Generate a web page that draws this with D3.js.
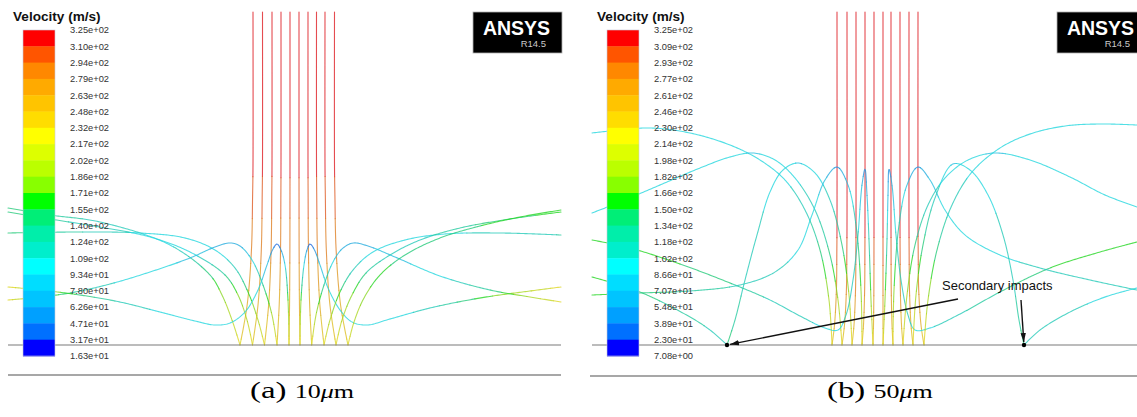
<!DOCTYPE html>
<html><head><meta charset="utf-8">
<script src="https://cdn.jsdelivr.net/npm/d3@7"></script>
<style>
body{margin:0;background:#fff}svg{display:block}
.sans{font-family:Arial,'Liberation Sans',Helvetica,sans-serif}
.serif{font-family:'Times New Roman','Liberation Serif',Times,serif}
</style>
</head><body>
<script>
// ---------- data ----------
const legendTitle = "Velocity (m/s)";
const legendA = ["3.25e+02","3.10e+02","2.94e+02","2.79e+02","2.63e+02","2.48e+02","2.32e+02","2.17e+02","2.02e+02","1.86e+02","1.71e+02","1.55e+02","1.40e+02","1.24e+02","1.09e+02","9.34e+01","7.80e+01","6.26e+01","4.71e+01","3.17e+01","1.63e+01"];
const legendB = ["3.25e+02","3.09e+02","2.93e+02","2.77e+02","2.61e+02","2.46e+02","2.30e+02","2.14e+02","1.98e+02","1.82e+02","1.66e+02","1.50e+02","1.34e+02","1.18e+02","1.02e+02","8.66e+01","7.07e+01","5.48e+01","3.89e+01","2.30e+01","7.08e+00"];
const bandColors = ["#ff0000","#ff5500","#ff8800","#ffaa00","#ffc400","#ffdd00","#ffff00","#ddff00","#bbff00","#88ff00","#00ff00","#00ee77","#00eeaa","#00eecc","#00ffff","#00ddff","#00c4ff","#00a0ff","#0070ff","#0000ff"];
const captions = [["(a)","10","μ","m"],["(b)","50","μ","m"]];

// jet (incoming particle) start x positions and wall impact x positions (units: 0.1 mm from jet axis)
const jetA = [-41,-31.5,-22,-13,-4,5,14,22.5,31,40.5];
const impactA = [-54,-41.5,-29.5,-17,-5,6,17.7,30,42,54];
const jetB = [-41,-31,-22,-13,-4,5,13,22,31,40];
const impactB = [-46,-36,-26,-16,-5,5,15,25,35,46];
// incoming path profile: height above wall, fraction of lateral deflection, velocity
const profAy = [333,180,150,95,40,0], profAf = [0,0,0.03,0.12,0.45,1], profAv = [322,316,300,286,255,228];
const profBy = [333,118,95,55,20,0],  profBf = [0,0,0.03,0.12,0.5,1],  profBv = [322,316,300,282,250,228];

// rebound trajectories [x, height, velocity]
const reboundA = [
 [[-54,0,228],[-62,25,200],[-72,50,180],[-84,70,150],[-124,100,105],[-194,123,115],[-244,130,140],[-286,137,155]],
 [[-41.5,0,228],[-47,25,200],[-56,50,175],[-69,70,140],[-104,93,100],[-144,108,105],[-194,118,115],[-244,126,130],[-286,133,150]],
 [[-29.5,0,228],[-36,25,195],[-46,53,160],[-59,77,115],[-79,95,100],[-109,107,100],[-154,112,105],[-214,113,125],[-286,112,150]],
 [[-17,0,228],[-22,30,190],[-31,60,140],[-42,85,100],[-54,99,75],[-64,102,65],[-79,98,75],[-104,87,90],[-144,73,100],[-184,61,110],[-224,52,140],[-264,47,190],[-286,45,225]],
 [[-5,0,228],[-6,45,170],[-9,80,100],[-13,95,60],[-17,101,35],[-21,96,50],[-27,80,85],[-36,55,100],[-49,33,105],[-64,22,100],[-79,20,100],[-99,24,100],[-134,33,105],[-174,43,120],[-214,50,150],[-254,55,190],[-286,58,225]],
 [[6,0,228],[7,45,170],[10,80,100],[13,95,60],[16,101,35],[20,96,50],[26,80,85],[34,57,100],[46,35,105],[58,23,100],[73,20,100],[96,26,100],[136,37,115],[186,47,160],[236,54,200],[267,58,225]],
 [[17.7,0,228],[22,30,190],[30,60,140],[39,83,100],[48,96,75],[59,102,65],[74,99,75],[101,88,90],[146,69,100],[196,55,140],[236,48,190],[267,43,225]],
 [[30,0,228],[36,25,195],[46,53,160],[59,75,115],[79,93,100],[111,105,100],[151,111,105],[206,112,115],[267,110,125]],
 [[42,0,228],[48,25,200],[58,50,175],[72,72,140],[96,90,115],[126,105,120],[166,117,135],[216,126,150],[267,133,160]],
 [[54,0,228],[60,23,200],[70,47,180],[86,70,160],[111,90,150],[146,107,150],[186,119,155],[226,128,160],[267,135,165]]
];
const reboundB = [
 [[-46,0,228],[-49,45,185],[-58,95,140],[-73,135,110],[-93,165,100],[-118,185,100],[-148,200,100],[-188,212,100],[-228,217,100],[-268,214,100],[-286,212,100]],
 [[-36,0,228],[-40,45,185],[-48,90,140],[-63,135,110],[-83,167,100],[-103,185,90],[-125,192,85],[-148,188,90],[-178,177,95],[-218,160,100],[-258,143,100],[-286,132,100]],
 [[-26,0,228],[-29,50,185],[-36,100,140],[-48,145,110],[-63,172,95],[-80,182,85],[-95,175,95],[-108,153,100],[-121,110,105],[-133,65,110],[-143,25,130],[-151,0,140]],
 [[-151,0,115],[-168,15,115],[-188,28,125],[-238,53,140],[-286,68,155]],
 [[-5,0,228],[-7,45,175],[-9,105,120],[-11,150,70],[-13,176,40],[-16,160,70],[-20,110,105],[-25,65,110],[-32,30,105],[-40,15,100],[-53,17,100],[-78,29,105],[-108,45,115],[-148,62,135],[-198,81,150],[-248,97,160],[-286,105,165]],
 [[-16,0,228],[-17,55,170],[-22,120,120],[-30,160,80],[-41,178,50],[-53,165,75],[-66,130,100],[-80,95,100],[-103,73,105],[-138,60,115],[-188,54,130],[-238,52,145],[-286,50,160]],
 [[5,0,228],[7,45,175],[9,105,120],[10,150,70],[11,176,40],[14,160,70],[18,110,105],[23,65,110],[30,30,105],[37,15,100],[52,17,100],[82,31,115],[122,53,135],[172,77,150],[222,93,160],[259,103,165]],
 [[15,0,228],[16,55,170],[21,120,120],[29,160,80],[40,178,50],[52,165,75],[67,135,95],[87,110,100],[122,90,100],[162,77,105],[212,65,110],[259,55,115]],
 [[25,0,228],[29,50,185],[37,100,140],[50,140,110],[67,167,100],[90,185,90],[117,192,85],[152,185,90],[192,168,95],[227,150,100],[259,138,100]],
 [[35,0,228],[38,50,185],[45,100,140],[57,147,110],[75,181,85],[92,175,95],[110,150,100],[125,110,105],[135,65,110],[141,25,130],[146,0,140]],
 [[146,0,115],[162,15,110],[192,33,105],[227,48,100],[259,57,100]],
 [[46,0,228],[50,45,185],[59,95,140],[74,140,110],[94,173,100],[122,197,100],[152,211,100],[187,219,100],[222,221,100],[259,220,100]]
];
// secondary impact annotation (panel b)
const secondaryDots = [[-151,0],[146,0]];
const arrowTails = [[80,46],[143,45]];
const annotText = "Secondary impacts", annotPos = [64,55];

// ---------- layout ----------
const W = 1137, H = 417;
const svg = d3.select("body").append("svg").attr("width", W).attr("height", H);
svg.append("defs").append("marker").attr("id","ah").attr("viewBox","0 0 10 6")
  .attr("refX",10).attr("refY",3).attr("markerWidth",9).attr("markerHeight",5.5)
  .attr("markerUnits","userSpaceOnUse").attr("orient","auto")
  .append("path").attr("d","M0,0L10,3L0,6Z").attr("fill","#111");

const yScale = d3.scaleLinear().domain([0,333]).range([345,12]);
const panels = [
  {dx:0, xs:d3.scaleLinear().domain([-286,267]).range([8,561]), legend:legendA, vmin:16.3,
   jet:jetA, imp:impactA, py:profAy, pf:profAf, pv:profAv, reb:reboundA, wall:[8,561], base:[8,561,375], cap:captions[0], capX:250},
  {dx:584, xs:d3.scaleLinear().domain([-286,267]).range([592,1145]), legend:legendB, vmin:7.08,
   jet:jetB, imp:impactB, py:profBy, pf:profBf, pv:profBv, reb:reboundB, wall:[592,1137], base:[590,1137,376], cap:captions[1], capX:827}
];

function drawTraj(g, pts, xs, ys, color) {
  const P = pts.map(d => [xs(d[0]), ys(d[1])]);
  const gen = d3.line().curve(d3.curveCatmullRom.alpha(0.5));
  const tmp = g.append("path").attr("d", gen(P)).attr("fill","none");
  const node = tmp.node(); const L = node.getTotalLength();
  const cum = [0];
  for (let i = 1; i < P.length; i++) cum.push(cum[i-1] + Math.hypot(P[i][0]-P[i-1][0], P[i][1]-P[i-1][1]));
  const C = cum[cum.length-1];
  const vAt = t => { let i = 0; while (i < cum.length-2 && cum[i+1] < t) i++;
    const f = Math.max(0, Math.min(1, (t-cum[i])/((cum[i+1]-cum[i])||1)));
    return pts[i][2] + (pts[i+1][2]-pts[i][2])*f; };
  const n = Math.max(4, Math.ceil(L/1.5));
  const samples = d3.range(n+1).map(k => node.getPointAtLength(k/n*L));
  tmp.remove();
  const runs = []; let cur = null;
  for (let k = 1; k <= n; k++) {
    const c = color(vAt((k-0.5)/n*C));
    if (!cur || cur.c !== c) { cur = {c, p:[samples[k-1]]}; runs.push(cur); }
    cur.p.push(samples[k]);
  }
  runs.forEach(r => g.append("path")
    .attr("d", d3.line().x(d=>d.x).y(d=>d.y)(r.p))
    .attr("fill","none").attr("stroke", d3.interpolateRgb(r.c, "#8a7088")(0.28))
    .attr("stroke-width",1.1).attr("stroke-opacity",0.8)
    .attr("stroke-linecap","round").attr("stroke-linejoin","round"));
}

panels.forEach(p => {
  const color = d3.scaleQuantize().domain([p.vmin, 325]).range(bandColors.slice().reverse());
  const g = svg.append("g");
  p.jet.forEach((x0, i) => {
    const dxi = p.imp[i] - x0;
    const pts = p.py.map((y, k) => [x0 + dxi*p.pf[k], y, p.pv[k]]);
    drawTraj(g, pts, p.xs, yScale, color);
  });
  p.reb.forEach(t => drawTraj(g, t, p.xs, yScale, color));
  svg.append("line").attr("x1",p.wall[0]).attr("x2",p.wall[1]).attr("y1",yScale(0)).attr("y2",yScale(0))
    .attr("stroke","#7a7a7a").attr("stroke-width",1.2);
  svg.append("line").attr("x1",p.base[0]).attr("x2",p.base[1]).attr("y1",p.base[2]).attr("y2",p.base[2])
    .attr("stroke","#8a8a8a").attr("stroke-width",1.6);
  // colour bar
  const bx = 23 + p.dx, by0 = 30, by1 = 356, bh = (by1-by0)/20;
  bandColors.forEach((c, i) => svg.append("rect").attr("x",bx).attr("y",by0+i*bh).attr("width",32)
    .attr("height",bh+0.4).attr("fill",c));
  svg.append("rect").attr("x",bx).attr("y",by0).attr("width",32).attr("height",by1-by0)
    .attr("fill","none").attr("stroke","#c8c8d8").attr("stroke-width",0.6);
  p.legend.forEach((t, i) => svg.append("text").attr("class","sans").attr("x",bx+47).attr("y",by0+i*bh+3.3)
    .attr("font-size",9.3).attr("fill","#333").text(t));
  svg.append("text").attr("class","sans").attr("x",13+p.dx).attr("y",21)
    .attr("font-weight","bold").attr("font-size",13.6).attr("fill","#111").text(legendTitle);
  // ANSYS logo
  const lx = 473 + p.dx;
  svg.append("rect").attr("x",lx).attr("y",12).attr("width",89).attr("height",41).attr("fill","#000")
    .attr("stroke","#b0b0b0").attr("stroke-width",0.8);
  svg.append("text").attr("class","sans").attr("x",lx+43.5).attr("y",34.5).attr("text-anchor","middle")
    .attr("font-weight","bold").attr("font-size",19.5).attr("fill","#fff").text("ANSYS");
  svg.append("text").attr("class","sans").attr("x",lx+73).attr("y",47).attr("text-anchor","end")
    .attr("font-size",9.5).attr("fill","#c8c8c8").text("R14.5");
  // caption
  const cap = svg.append("text").attr("class","serif").attr("transform",`translate(${p.capX},398) scale(1.37,1)`)
    .attr("fill","#000");
  cap.append("tspan").attr("font-size",24).text(p.cap[0] + " ");
  cap.append("tspan").attr("font-size",19).text(p.cap[1]);
  cap.append("tspan").attr("font-size",19).attr("font-style","italic").text(p.cap[2]);
  cap.append("tspan").attr("font-size",19).text(p.cap[3]);
});

// annotation on panel b
const pb = panels[1];
secondaryDots.forEach((d, i) => {
  const x1 = pb.xs(arrowTails[i][0]), y1 = yScale(arrowTails[i][1]);
  const x2 = pb.xs(d[0]), y2 = yScale(d[1]);
  const len = Math.hypot(x2-x1, y2-y1), sh = 3;
  svg.append("line").attr("x1",x1).attr("y1",y1)
    .attr("x2",x2-(x2-x1)/len*sh).attr("y2",y2-(y2-y1)/len*sh)
    .attr("stroke","#111").attr("stroke-width",1.4).attr("marker-end","url(#ah)");
  svg.append("circle").attr("cx",x2).attr("cy",y2).attr("r",2.2).attr("fill","#000");
});
svg.append("text").attr("class","sans").attr("x",pb.xs(annotPos[0])).attr("y",yScale(annotPos[1]))
  .attr("font-size",13).attr("fill","#111").text(annotText);
</script>
</body></html>
